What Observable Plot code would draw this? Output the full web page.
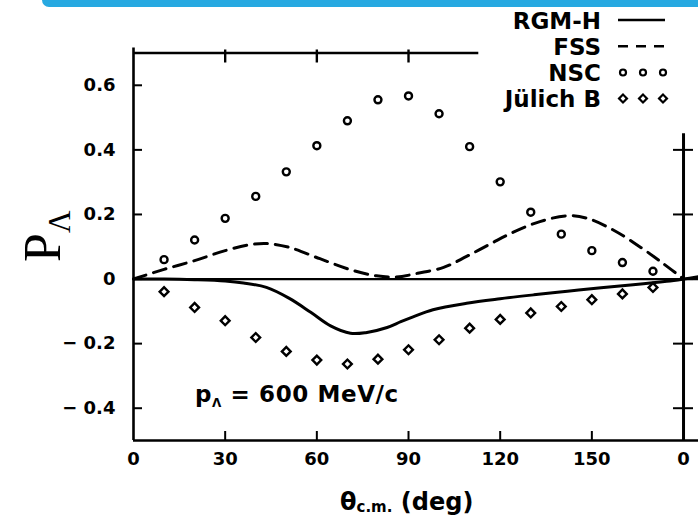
<!DOCTYPE html>
<html><head><meta charset="utf-8">
<script src="https://cdn.jsdelivr.net/npm/d3@7"></script>
<script src="https://cdn.jsdelivr.net/npm/@observablehq/plot@0.6"></script>
<style>
html,body{margin:0;padding:0;background:#fff;overflow:hidden;}
#wrap{position:relative;width:698px;height:516px;}
#band{position:absolute;top:0;left:42px;right:0;height:7px;background:#27a9e1;border-bottom-left-radius:7px;z-index:2;}
svg{display:block;}
</style></head><body><div id="wrap"><div id="band"></div></div>
<script>
// ---- data ----
const pointAngles = [10,20,30,40,50,60,70,80,90,100,110,120,130,140,150,160,170];
const nscValues   = [0.060,0.121,0.188,0.256,0.332,0.413,0.490,0.555,0.567,0.512,0.410,0.301,0.207,0.139,0.088,0.051,0.024];
const julichValues= [-0.039,-0.088,-0.129,-0.181,-0.224,-0.251,-0.263,-0.248,-0.219,-0.188,-0.152,-0.125,-0.105,-0.085,-0.064,-0.046,-0.026];

const rgmAngles = [0,10,20,30,36,43.5,51,58,64.5,71,76,83,87.5,91.5,98,109,120,131,142,153,163.5,174.5,180,184.9];
const rgmValues = [0,0,-0.002,-0.006,-0.012,-0.026,-0.060,-0.103,-0.145,-0.168,-0.166,-0.150,-0.132,-0.117,-0.095,-0.075,-0.061,-0.049,-0.038,-0.027,-0.018,-0.007,0,0.007];

const fssAngles = [0,10,20,30,38,43.5,51,61,71,79.5,86,93,101.5,109,117,124.5,133,142,148.5,157,166,173.5,180];
const fssValues = [0,0.030,0.057,0.088,0.106,0.110,0.098,0.063,0.029,0.010,0.006,0.018,0.036,0.070,0.110,0.146,0.178,0.196,0.188,0.152,0.098,0.047,0];

const xTicks = [0,30,60,90,120,150,180];
const xTickLabels = ["0","30","60","90","120","150","0"];
const topTicks = [30,60,90];
const innerXTicks = [30,60,90,120,150];
const yTicks = [0.6,0.4,0.2,0,-0.2,-0.4];
const yTickLabels = ["0.6","0.4","0.2","0","\u2212 0.2","\u2212 0.4"];
const rightTicks = [0.4,0.2,0,-0.2,-0.4];
const legendLabels = ["RGM-H","FSS","NSC","J\u00fclich B"];
const yTitle = ["P","\u039b"];
const xTitle = ["\u03b8","c.m."," (deg)"];
const noteText = ["p","\u039b"," = 600 MeV/c"];

// ---- tables ----
const nsc = pointAngles.map((a,i)=>({a, v:nscValues[i]}));
const jul = pointAngles.map((a,i)=>({a, v:julichValues[i]}));
const rgm = rgmAngles.map((a,i)=>({a, v:rgmValues[i]}));
const fss = fssAngles.map((a,i)=>({a, v:fssValues[i]}));

const W=698, H=516, mL=133, mT=52.5, mB=76;
const xMax=184.9, yMin=-0.5, yMax=0.7;
const pxX = xMax/(W-mL), pxY=(yMax-yMin)/(H-mT-mB);
const FONT = "'DejaVu Sans', sans-serif";

const plot = Plot.plot({
  width:W, height:H, marginLeft:mL, marginRight:0, marginTop:mT, marginBottom:mB,
  x:{domain:[0,xMax]}, y:{domain:[yMin,yMax]},
  style:{fontFamily:FONT, fontWeight:"bold", fontSize:"18px", background:"transparent", color:"#000"},
  marks:[
    Plot.axisX(xTicks,{tickSize:0, tickPadding:12, label:null, tickFormat:d=>xTickLabels[xTicks.indexOf(d)]}),
    Plot.axisY(yTicks,{tickSize:0, tickPadding:18, label:null, tickFormat:d=>yTickLabels[yTicks.indexOf(d)]}),
    // frame
    Plot.ruleY([yMin],{x1:0, x2:xMax, strokeWidth:2.6}),
    Plot.ruleY([0],{x1:0, x2:xMax, strokeWidth:2.2}),
    Plot.ruleX([0],{y1:yMin, y2:yMax+5*pxY, strokeWidth:2.6}),
    Plot.ruleY([yMax],{x1:0, x2:113, strokeWidth:2.6}),
    Plot.ruleX([180],{y1:yMin, y2:0.45, strokeWidth:3}),
    Plot.ruleX(topTicks,{y1:yMax-10*pxY, y2:yMax+3*pxY, strokeWidth:2.4}),
    Plot.ruleY(yTicks,{x1:0, x2:9*pxX, strokeWidth:2}),
    Plot.ruleX(innerXTicks,{y1:yMin, y2:yMin+9*pxY, strokeWidth:2}),
    Plot.ruleY(rightTicks,{x1:180-10*pxX, x2:180+10*pxX, strokeWidth:2}),
    // curves
    Plot.line(fss,{x:"a", y:"v", curve:"catmull-rom", strokeWidth:3, strokeDasharray:"13,8"}),
    Plot.line(rgm,{x:"a", y:"v", curve:"catmull-rom", strokeWidth:3}),
    Plot.dot(nsc,{x:"a", y:"v", r:3.5, symbol:"circle", stroke:"#000", fill:"#fff", strokeWidth:2.4}),
    Plot.dot(jul,{x:"a", y:"v", r:3.5, symbol:"square", rotate:45, stroke:"#000", fill:"#fff", strokeWidth:2.4})
  ]
});
document.getElementById("wrap").appendChild(plot);

const svg = d3.select(plot);
// y title
const yt = svg.append("text").attr("transform","translate(60,262) rotate(-90)").attr("text-anchor","start")
  .attr("font-family","'Liberation Serif', serif").attr("font-weight","normal").attr("font-size",52).attr("fill","#000");
yt.append("tspan").text(yTitle[0]);
yt.append("tspan").attr("font-size",31).attr("dy",10).text(yTitle[1]);
// x title
const xt = svg.append("text").attr("x",340).attr("y",510).attr("text-anchor","start").attr("font-size",24).attr("fill","#000");
xt.append("tspan").text(xTitle[0]);
xt.append("tspan").attr("font-size",15).attr("dy",2).text(xTitle[1]);
xt.append("tspan").attr("dy",-2).text(xTitle[2]);
// annotation
const nt = svg.append("text").attr("x",195).attr("y",402).attr("text-anchor","start").attr("font-size",23)
  .attr("letter-spacing","0.6px").attr("fill","#000");
nt.append("tspan").text(noteText[0]);
nt.append("tspan").attr("font-size",12).attr("dy",5).text(noteText[1]);
nt.append("tspan").attr("dy",-5).text(noteText[2]);
// legend
const lg = svg.append("g");
const baselines = [28.5,54.7,81,107];
const sx = [623,643,663];
legendLabels.forEach((lab,i)=>{
  const b = baselines[i], cy = b-8.5;
  lg.append("text").attr("x",601).attr("y",b).attr("text-anchor","end").attr("font-size",23).attr("fill","#000").text(lab);
  if(i===0) lg.append("line").attr("x1",618).attr("x2",665).attr("y1",cy).attr("y2",cy).attr("stroke","#000").attr("stroke-width",2.6);
  if(i===1) lg.append("line").attr("x1",618).attr("x2",665).attr("y1",cy).attr("y2",cy).attr("stroke","#000").attr("stroke-width",2.6).attr("stroke-dasharray","10,8");
  if(i===2) sx.forEach(x=>lg.append("circle").attr("cx",x).attr("cy",cy).attr("r",3).attr("fill","#fff").attr("stroke","#000").attr("stroke-width",2.2));
  if(i===3) sx.forEach(x=>lg.append("rect").attr("x",-2.8).attr("y",-2.8).attr("width",5.6).attr("height",5.6).attr("transform",`translate(${x},${cy}) rotate(45)`).attr("fill","#fff").attr("stroke","#000").attr("stroke-width",2.2));
});
</script></body></html>
